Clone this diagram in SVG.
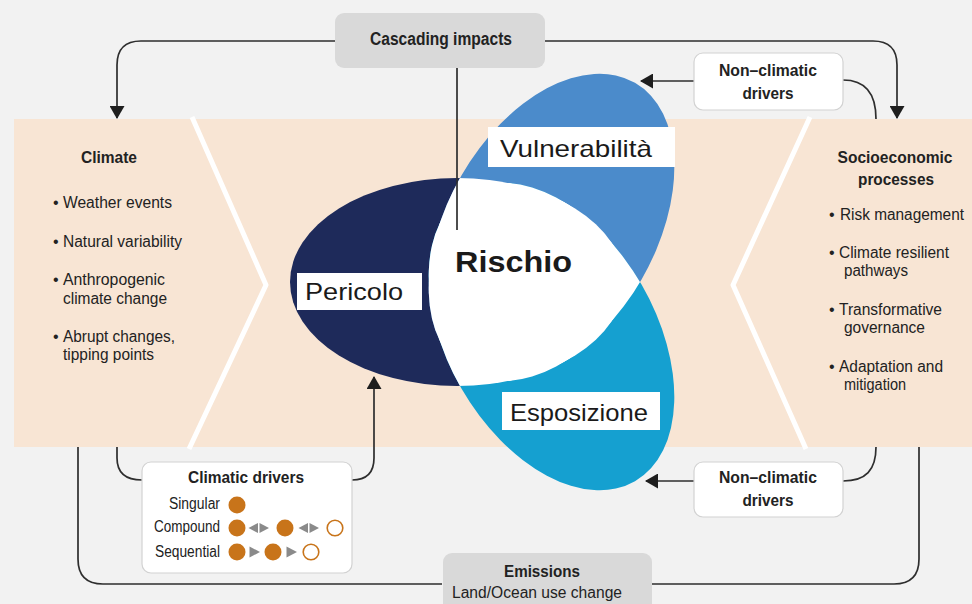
<svg xmlns="http://www.w3.org/2000/svg" width="972" height="604" viewBox="0 0 972 604">
<defs>
<style>
.t{font-family:"Liberation Sans",Arial,sans-serif;fill:#222;font-size:16px}
.b{font-weight:bold;font-size:17px}
.m{text-anchor:middle}
.e{text-anchor:end}
.lab{font-family:"Liberation Sans",Arial,sans-serif;font-size:24px;fill:#1a1a1a}
.con{fill:none;stroke:#2e2e2e;stroke-width:1.7}
.nbox{fill:#fff;stroke:#d2d2d2;stroke-width:1.2}
.gbox{fill:#d9d9d9}
.dot{fill:#c8741a}
.odot{fill:#fff;stroke:#c8741a;stroke-width:1.6}
.tri{fill:#8a8a8a}
.chev{fill:none;stroke:#fff;stroke-width:5;stroke-linejoin:round}
</style>
<marker id="ah" viewBox="0 0 13 15" refX="12" refY="7.5" markerWidth="13" markerHeight="15" markerUnits="userSpaceOnUse" orient="auto"><path d="M0,0 L13,7.5 L0,15 z" fill="#1e1e1e"/></marker>
<clipPath id="cP"><ellipse cx="457" cy="282" rx="167" ry="104"/></clipPath>
<clipPath id="cV"><ellipse cx="0" cy="0" rx="167" ry="104" transform="translate(551.5 227.4) rotate(-60)"/></clipPath>
</defs>
<rect x="0" y="0" width="972" height="604" fill="#f2f2f2"/>
<rect x="14" y="119" width="958" height="328" fill="#f8e5d4"/>
<polyline class="chev" points="192,117 266,285 189,449"/>
<polyline class="chev" points="810,117 733,285 806,449"/>

<g id="climate">
<text class="t b m" x="109" y="163" textLength="56" lengthAdjust="spacingAndGlyphs">Climate</text>
<text class="t" x="53" y="208">•</text>
<text class="t" x="63" y="208" textLength="109" lengthAdjust="spacingAndGlyphs">Weather events</text>
<text class="t" x="53" y="247">•</text>
<text class="t" x="63" y="247" textLength="119" lengthAdjust="spacingAndGlyphs">Natural variability</text>
<text class="t" x="53" y="285">•</text>
<text class="t" x="63" y="285" textLength="102" lengthAdjust="spacingAndGlyphs">Anthropogenic</text>
<text class="t" x="63" y="304" textLength="104" lengthAdjust="spacingAndGlyphs">climate change</text>
<text class="t" x="53" y="342">•</text>
<text class="t" x="63" y="342" textLength="112" lengthAdjust="spacingAndGlyphs">Abrupt changes,</text>
<text class="t" x="63" y="360" textLength="91" lengthAdjust="spacingAndGlyphs">tipping points</text>
</g>

<g id="socioeconomic">
<text class="t b m" x="895" y="163" textLength="115" lengthAdjust="spacingAndGlyphs">Socioeconomic</text>
<text class="t b m" x="896" y="185" textLength="76" lengthAdjust="spacingAndGlyphs">processes</text>
<text class="t" x="829" y="220">•</text>
<text class="t" x="840" y="220" textLength="124" lengthAdjust="spacingAndGlyphs">Risk management</text>
<text class="t" x="829" y="258">•</text>
<text class="t" x="839" y="258" textLength="110" lengthAdjust="spacingAndGlyphs">Climate resilient</text>
<text class="t" x="844" y="276" textLength="64" lengthAdjust="spacingAndGlyphs">pathways</text>
<text class="t" x="829" y="315">•</text>
<text class="t" x="839" y="315" textLength="103" lengthAdjust="spacingAndGlyphs">Transformative</text>
<text class="t" x="844" y="333" textLength="81" lengthAdjust="spacingAndGlyphs">governance</text>
<text class="t" x="829" y="372">•</text>
<text class="t" x="839" y="372" textLength="104" lengthAdjust="spacingAndGlyphs">Adaptation and</text>
<text class="t" x="844" y="390" textLength="62" lengthAdjust="spacingAndGlyphs">mitigation</text>
</g>

<g id="hazard">
<ellipse cx="457" cy="282" rx="167" ry="104" fill="#1e2a5a"/>
</g>
<g id="vulnerability">
<ellipse cx="0" cy="0" rx="167" ry="104" transform="translate(551.5 227.4) rotate(-60)" fill="#4b8bcb"/>
</g>
<g id="exposure">
<ellipse cx="0" cy="0" rx="167" ry="104" transform="translate(551.5 336.6) rotate(60)" fill="#15a0d0"/>
</g>
<g id="risk">
<g clip-path="url(#cP)">
<ellipse cx="0" cy="0" rx="167" ry="104" transform="translate(551.5 227.4) rotate(-60)" fill="#fff"/>
<ellipse cx="0" cy="0" rx="167" ry="104" transform="translate(551.5 336.6) rotate(60)" fill="#fff"/>
</g>
<g clip-path="url(#cV)">
<ellipse cx="0" cy="0" rx="167" ry="104" transform="translate(551.5 336.6) rotate(60)" fill="#fff"/>
</g>
<text class="lab" x="455" y="272" font-weight="bold" textLength="117" lengthAdjust="spacingAndGlyphs" style="font-size:29px">Rischio</text>
</g>
<g id="hazard-label">
<rect x="297" y="273" width="125" height="37" fill="#fff"/>
<text class="lab" x="305" y="300" textLength="98" lengthAdjust="spacingAndGlyphs">Pericolo</text>
</g>
<g id="vulnerability-label">
<rect x="488" y="127" width="187" height="40" fill="#fff"/>
<text class="lab" x="500" y="157" textLength="152" lengthAdjust="spacingAndGlyphs">Vulnerabilità</text>
</g>
<g id="exposure-label">
<rect x="502" y="392" width="158" height="38" fill="#fff"/>
<text class="lab" x="510" y="421" textLength="138" lengthAdjust="spacingAndGlyphs">Esposizione</text>
</g>

<g id="connectors">
<path class="con" d="M335,41 H141 Q117,41 117,65 V118" marker-end="url(#ah)"/>
<path class="con" d="M545,41 H873 Q897,41 897,65 V118" marker-end="url(#ah)"/>
<path class="con" d="M457,68 V230"/>
<path class="con" d="M694,81 H641" marker-end="url(#ah)"/>
<path class="con" d="M843,80 C866,80 876,95 876,119"/>
<path class="con" d="M694,481 H646" marker-end="url(#ah)"/>
<path class="con" d="M876,447 C876,470 866,481 843,481"/>
<path class="con" d="M442,584 H103 Q78,584 78,559 V447"/>
<path class="con" d="M652,584 H894 Q919,584 919,559 V447"/>
<path class="con" d="M117,447 V458 Q117,480 142,480"/>
<path class="con" d="M352,480 Q374,480 374,458 V377" marker-end="url(#ah)"/>
</g>

<g id="cascading">
<rect class="gbox" x="335" y="13" width="210" height="55" rx="9"/>
<text class="t b m" x="441" y="45" style="font-size:18px" textLength="142" lengthAdjust="spacingAndGlyphs">Cascading impacts</text>
</g>

<g id="nonclimatic-top">
<rect class="nbox" x="694" y="53" width="149" height="57" rx="9"/>
<text class="t b m" x="768" y="76" textLength="98" lengthAdjust="spacingAndGlyphs">Non–climatic</text>
<text class="t b m" x="768" y="99" textLength="51" lengthAdjust="spacingAndGlyphs">drivers</text>
</g>

<g id="nonclimatic-bottom">
<rect class="nbox" x="694" y="462" width="149" height="55" rx="9"/>
<text class="t b m" x="768" y="483" textLength="98" lengthAdjust="spacingAndGlyphs">Non–climatic</text>
<text class="t b m" x="768" y="506" textLength="51" lengthAdjust="spacingAndGlyphs">drivers</text>
</g>

<g id="emissions">
<rect class="gbox" x="443" y="553" width="209" height="70" rx="9"/>
<text class="t b m" x="542" y="577" textLength="76" lengthAdjust="spacingAndGlyphs">Emissions</text>
<text class="t m" x="537" y="598" textLength="170" lengthAdjust="spacingAndGlyphs">Land/Ocean use change</text>
</g>

<g id="climatic-drivers">
<rect class="nbox" x="142" y="462" width="210" height="111" rx="9"/>
<text class="t b m" x="246" y="483" textLength="116" lengthAdjust="spacingAndGlyphs">Climatic drivers</text>
<text class="t e" x="220" y="509" textLength="51" lengthAdjust="spacingAndGlyphs">Singular</text>
<text class="t e" x="220" y="532" textLength="66" lengthAdjust="spacingAndGlyphs">Compound</text>
<text class="t e" x="220" y="557" textLength="65" lengthAdjust="spacingAndGlyphs">Sequential</text>
<circle class="dot" cx="237" cy="505" r="8.5"/>
<circle class="dot" cx="237" cy="528" r="8.5"/>
<polygon class="tri" points="258,523 258,533 248.5,528"/>
<polygon class="tri" points="259.5,523 259.5,533 269,528"/>
<circle class="dot" cx="285" cy="528" r="8.5"/>
<polygon class="tri" points="308,523 308,533 298.5,528"/>
<polygon class="tri" points="309.5,523 309.5,533 319,528"/>
<circle class="odot" cx="335" cy="528" r="7.8"/>
<circle class="dot" cx="237" cy="552" r="8.5"/>
<polygon class="tri" points="249.5,546.5 249.5,557.5 260,552"/>
<circle class="dot" cx="273" cy="552" r="8.5"/>
<polygon class="tri" points="286.5,546.5 286.5,557.5 297,552"/>
<circle class="odot" cx="311" cy="552" r="7.8"/>
</g>
</svg>
